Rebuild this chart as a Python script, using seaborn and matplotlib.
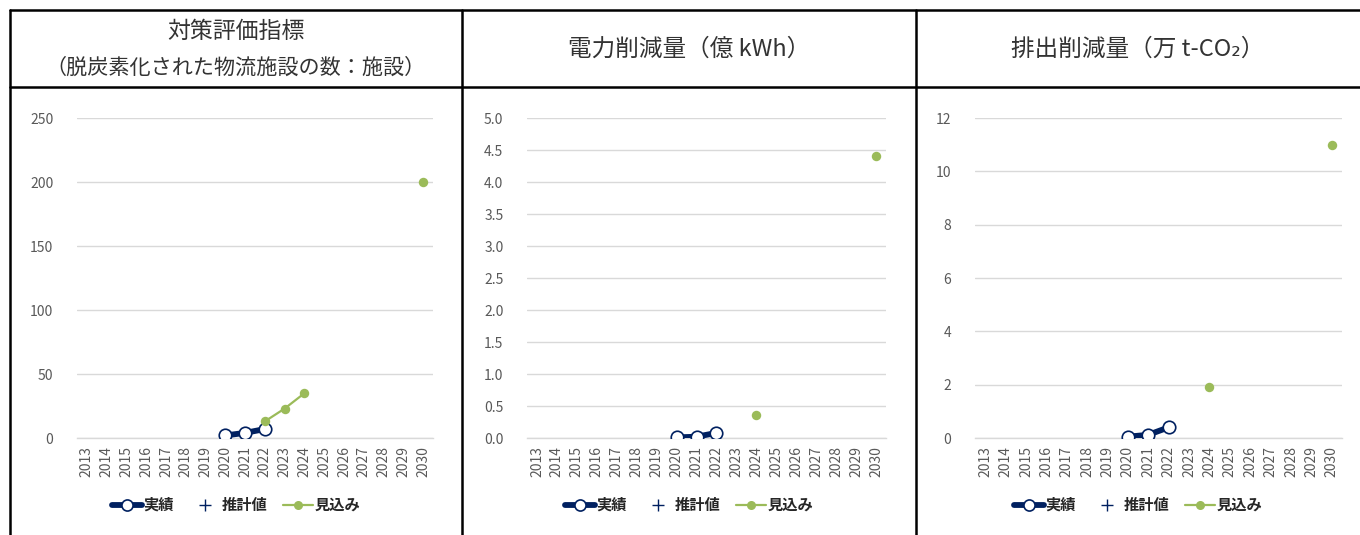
import matplotlib
matplotlib.use("Agg")
import matplotlib.pyplot as plt
import numpy as np
import pandas as pd
import seaborn as sns
from matplotlib.lines import Line2D

# ---------------- data ----------------
years = list(range(2013, 2031))

act_years = [2020, 2021, 2022]
act_facilities = [2, 4, 7]
act_power = [0.01, 0.02, 0.08]
act_co2 = [0.05, 0.12, 0.40]

fc_years_1 = [2022, 2023, 2024, 2030]
fc_facilities = [13, 23, 35, 200]
fc_years_23 = [2024, 2030]
fc_power = [0.36, 4.4]
fc_co2 = [1.9, 11.0]

title_1_line1 = "対策評価指標"
title_1_line2 = "（脱炭素化された物流施設の数：施設）"
title_2 = "電力削減量（億 kWh）"
title_3 = "排出削減量（万 t-CO₂）"

ylims = [250, 5.0, 12]
ysteps = [50, 0.5, 2]
yfmts = ["{:.0f}", "{:.1f}", "{:.0f}"]

legend_labels = ["実績", "推計値", "見込み"]

# ---------------- style ----------------
sns.set_theme(style="white")
plt.rcParams["font.family"] = ["Noto Sans CJK JP", "DejaVu Sans"]

NAVY = "#002060"
GREEN = "#9BBB59"
GRID = "#D9D9D9"
TICK = "#595959"
TITLE = "#333333"

W, H = 1360, 535
fig = plt.figure(figsize=(W / 100, H / 100), dpi=100)


def fx(px):
    return px / W


def fy(py):
    return 1 - py / H


def segments(xs, ys):
    """split into contiguous runs of consecutive years"""
    runs, cur = [], []
    for x, y in zip(xs, ys):
        if cur and x - cur[-1][0] > 1:
            runs.append(cur)
            cur = []
        cur.append((x, y))
    if cur:
        runs.append(cur)
    return [pd.DataFrame(r, columns=["year", "value"]) for r in runs]


panels = [
    dict(left=77, right=433, act=act_facilities, fcx=fc_years_1, fcy=fc_facilities, center=236),
    dict(left=527, right=886, act=act_power, fcx=fc_years_23, fcy=fc_power, center=689),
    dict(left=975, right=1342, act=act_co2, fcx=fc_years_23, fcy=fc_co2, center=1138),
]

top_px, bot_px = 118, 438

for i, p in enumerate(panels):
    ax = fig.add_axes([fx(p["left"]), fy(bot_px), fx(p["right"] - p["left"]), (bot_px - top_px) / H])
    # actual
    for seg in segments(act_years, p["act"]):
        sns.lineplot(data=seg, x="year", y="value", ax=ax, color=NAVY, linewidth=4.2,
                     marker="o", markersize=9, markerfacecolor="white",
                     markeredgecolor=NAVY, markeredgewidth=1.2, estimator=None, sort=False, zorder=3)
    # forecast
    for seg in segments(p["fcx"], p["fcy"]):
        sns.lineplot(data=seg, x="year", y="value", ax=ax, color=GREEN, linewidth=1.6,
                     marker="o", markersize=6.8, markeredgewidth=0, estimator=None, sort=False, zorder=4)

    ax.set_xlim(2012.5, 2030.5)
    ax.set_ylim(0, ylims[i])
    ticks = np.arange(0, ylims[i] + ysteps[i] / 2, ysteps[i])
    ax.set_yticks(ticks)
    ax.set_yticklabels([yfmts[i].format(t) for t in ticks])
    ax.set_xticks(years)
    ax.set_xticklabels([str(y) for y in years], rotation=90)
    ax.grid(axis="y", color=GRID, linewidth=1.0)
    ax.grid(axis="x", visible=False)
    for s in ["top", "right", "left"]:
        ax.spines[s].set_visible(False)
    ax.spines["bottom"].set_color(GRID)
    ax.spines["bottom"].set_linewidth(1.0)
    ax.tick_params(axis="y", length=0, pad=17, labelsize=10, labelcolor=TICK)
    ax.tick_params(axis="x", length=0, pad=6, labelsize=10, labelcolor=TICK)
    ax.set_xlabel("")
    ax.set_ylabel("")
    ax.set_facecolor("none")

    handles = [
        Line2D([], [], color=NAVY, linewidth=4.2, marker="o", markersize=8,
               markerfacecolor="white", markeredgecolor=NAVY, markeredgewidth=1.2),
        Line2D([], [], color=NAVY, linestyle="none", marker="+", markersize=8, markeredgewidth=1.0),
        Line2D([], [], color=GREEN, linewidth=1.6, marker="o", markersize=6.5, markeredgewidth=0),
    ]
    fig.legend(handles, legend_labels, loc="center", bbox_to_anchor=(fx(p["center"]), fy(505)),
               ncol=3, frameon=False, handlelength=2.0, handletextpad=0.1, columnspacing=1.0,
               prop=dict(family=["Noto Sans CJK JP", "DejaVu Sans"], size=11, weight="bold"))

# ---------------- table borders & headers ----------------
for (x0, y0, x1, y1) in [(10, 10, 1360, 10), (10, 87, 1360, 87),
                         (10, 10, 10, 535), (462, 10, 462, 535), (916, 10, 916, 535)]:
    fig.add_artist(Line2D([fx(x0), fx(x1)], [fy(y0), fy(y1)], color="black", linewidth=1.8,
                          transform=fig.transFigure))

fig.text(fx(236), fy(31), title_1_line1, ha="center", va="center", fontsize=16.5, color=TITLE)
fig.text(fx(236), fy(68), title_1_line2, ha="center", va="center", fontsize=15.2, color=TITLE)
fig.text(fx(689), fy(49), title_2, ha="center", va="center", fontsize=17, color=TITLE)
fig.text(fx(1138), fy(49), title_3, ha="center", va="center", fontsize=17, color=TITLE)

fig.savefig("out.png", dpi=100, facecolor="white")
